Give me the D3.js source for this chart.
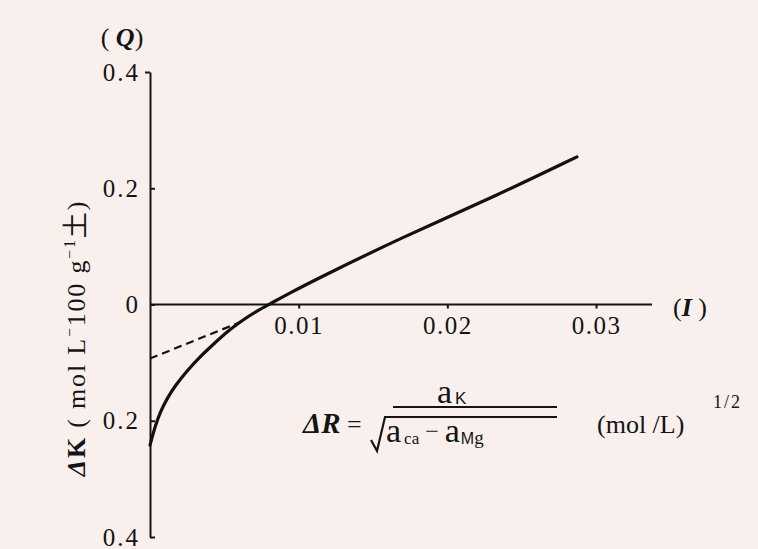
<!DOCTYPE html>
<html><head><meta charset="utf-8">
<script src="https://cdn.jsdelivr.net/npm/d3@7"></script>
<style>
html,body{margin:0;padding:0;background:#f9f0ee;}
svg{display:block;}
text{font-family:"Liberation Serif","Times New Roman",serif;fill:#141414;}
</style></head><body><svg id="c" width="758" height="549"></svg>
<script>
// ---- data ----
const xTicks = [0.01, 0.02, 0.03];
const yTicks = [0.4, 0.2, 0, -0.2, -0.4];
const curveI = [0, 0.00034, 0.00067, 0.00114, 0.00168, 0.00249, 0.00336, 0.00424, 0.00518, 0.00605, 0.00719, 0.00807, 0.00942, 0.01123, 0.01682, 0.02354, 0.02872];
const curveK = [-0.242, -0.210, -0.186, -0.162, -0.140, -0.114, -0.090, -0.069, -0.047, -0.030, -0.011, 0.001, 0.020, 0.044, 0.114, 0.190, 0.254];
const dashI = [0, 0.0062];
const dashK = [-0.093, -0.029];

const svg = d3.select("#c");
svg.append("rect").attr("width", 758).attr("height", 549).attr("fill", "#f9f0ee");

const x = d3.scaleLinear().domain([0, 0.03]).range([150, 596]);
const y = d3.scaleLinear().domain([-0.4, 0.4]).range([537, 72]);
const y0 = y(0);

// x axis
const xa = svg.append("g").attr("transform", `translate(0,${y0})`)
  .call(d3.axisBottom(x).tickValues(xTicks).tickSize(4).tickPadding(8).tickFormat(d3.format(".2f")));
xa.select(".domain").remove();
xa.selectAll(".tick line").attr("stroke", "#141414").attr("stroke-width", 2);
xa.selectAll(".tick text").attr("font-size", 25).attr("fill", "#141414")
  .attr("letter-spacing", 1.5).style("font-family", '"Liberation Serif",serif');
svg.append("line").attr("x1", x(0)).attr("x2", 652).attr("y1", y0).attr("y2", y0)
  .attr("stroke", "#141414").attr("stroke-width", 2);

// y axis
const ya = svg.append("g").attr("transform", `translate(${x(0)},0)`)
  .call(d3.axisLeft(y).tickValues(yTicks).tickSize(-5).tickSizeOuter(0).tickPadding(10)
    .tickFormat(d => d === 0 ? "0" : Math.abs(d).toFixed(1)));
ya.select(".domain").attr("stroke", "#141414").attr("stroke-width", 2);
ya.selectAll(".tick line").attr("stroke", "#141414").attr("stroke-width", 2);
ya.selectAll(".tick").filter(d => d === 0.4).select("line").attr("x2", -5);
ya.selectAll(".tick text").attr("font-size", 25).attr("fill", "#141414")
  .attr("letter-spacing", 2).style("font-family", '"Liberation Serif",serif');

// curves
const pts = curveI.map((v, i) => [v, curveK[i]]);
const line = d3.line().x(d => x(d[0])).y(d => y(d[1])).curve(d3.curveBasis);
svg.append("path").attr("d", line(pts)).attr("fill", "none")
  .attr("stroke", "#111").attr("stroke-width", 3.2).attr("stroke-linecap", "round");
const dpts = dashI.map((v, i) => [v, dashK[i]]);
svg.append("path").attr("d", d3.line().x(d => x(d[0])).y(d => y(d[1]))(dpts))
  .attr("fill", "none").attr("stroke", "#111").attr("stroke-width", 2.2)
  .attr("stroke-dasharray", "8,5");

// axis titles
const q = svg.append("text").attr("x", 122).attr("y", 46).attr("text-anchor", "middle").attr("font-size", 26);
q.append("tspan").text("( ");
q.append("tspan").attr("font-style", "italic").attr("font-weight", "bold").text("Q");
q.append("tspan").text(")");

const it = svg.append("text").attr("x", 690).attr("y", 316).attr("text-anchor", "middle").attr("font-size", 26);
it.append("tspan").text("(");
it.append("tspan").attr("font-style", "italic").attr("font-weight", "bold").text("I");
it.append("tspan").text(" )");

const yl = svg.append("text").attr("transform", "translate(85,338) rotate(-90)")
  .attr("text-anchor", "middle").attr("font-size", 26).attr("letter-spacing", 1.8);
yl.append("tspan").attr("font-weight", "bold").attr("font-style", "italic").text("Δ");
yl.append("tspan").attr("font-weight", "bold").text("K");
yl.append("tspan").text(" ( mol L");
yl.append("tspan").attr("font-size", 16).attr("dy", -10).text("−");
yl.append("tspan").attr("dy", 10).text("100 g");
yl.append("tspan").attr("font-size", 16).attr("dy", -10).text("−1");
yl.append("tspan").attr("dy", 10).style("font-family", '"Noto Sans CJK SC",sans-serif').text("土");
yl.append("tspan").text(")");

// formula annotation
const fr = svg.append("text").attr("x", 303).attr("y", 433).attr("font-size", 29);
fr.append("tspan").attr("font-weight", "bold").attr("font-style", "italic").text("ΔR");
fr.append("tspan").attr("font-size", 26).text(" =");

const num = svg.append("text").attr("x", 437).attr("y", 403).attr("font-size", 34);
num.append("tspan").text("a");
num.append("tspan").attr("font-size", 17).attr("dy", 1).attr("dx", 3).style("font-family", '"Liberation Sans",sans-serif').text("K");

svg.append("line").attr("x1", 393).attr("x2", 557).attr("y1", 407).attr("y2", 407)
  .attr("stroke", "#141414").attr("stroke-width", 2);
svg.append("path").attr("d", "M371,440 L377,451 L385,417 L557,417")
  .attr("fill", "none").attr("stroke", "#141414").attr("stroke-width", 2.2);

const den = svg.append("text").attr("x", 386).attr("y", 442).attr("font-size", 34);
den.append("tspan").text("a");
den.append("tspan").attr("font-size", 17).attr("dy", 2).attr("dx", 3).text("ca");
den.append("tspan").attr("font-size", 24).attr("dy", -5).text(" − ");
den.append("tspan").attr("dy", 3).text("a");
den.append("tspan").attr("font-size", 16).attr("dy", 2).attr("dx", 1).style("font-family", '"Liberation Sans",sans-serif').text("M");
den.append("tspan").attr("font-size", 19).text("g");

const un = svg.append("text").attr("x", 597).attr("y", 433).attr("font-size", 26);
un.append("tspan").text("(mol /L)");
svg.append("text").attr("x", 713).attr("y", 408).attr("font-size", 18).attr("letter-spacing", 2).text("1/2");
</script></body></html>
